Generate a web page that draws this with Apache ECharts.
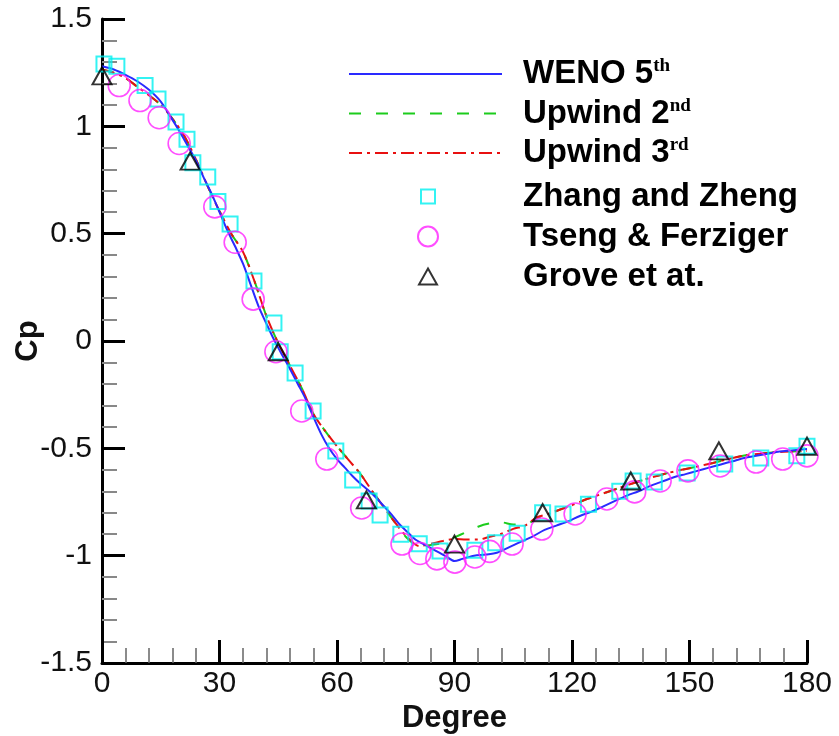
<!DOCTYPE html>
<html>
<head>
<meta charset="utf-8">
<script src="https://cdn.jsdelivr.net/npm/echarts@6/dist/echarts.min.js"></script>
<style>
html,body{margin:0;padding:0;background:#fff;}
#chart{width:839px;height:736px;}
</style>
</head>
<body>
<div id="chart"></div>
<script>
// ---- data ----
const wenoDeg = [0,3,6,9,12,15,18,20,22,24,26,28,30,32,34,36,38,40,42,44,46,48,50,52,54,56,58,60,62,64,66,68,70,72,74,76,78,80,82,84,86,88,90,92,95,98,101,104,107,110,113,116,119,122,125,128,131,134,137,140,143,146,149,152,155,158,161,164,167,170,173,176,180];
const wenoCp  = [1.28,1.265,1.24,1.21,1.17,1.115,1.03,0.97,0.905,0.84,0.76,0.685,0.6,0.515,0.44,0.36,0.26,0.16,0.08,0.003,-0.065,-0.13,-0.2,-0.27,-0.355,-0.435,-0.5,-0.55,-0.59,-0.63,-0.665,-0.695,-0.73,-0.77,-0.81,-0.855,-0.89,-0.925,-0.945,-0.965,-0.985,-1.005,-1.025,-1.015,-1.0,-0.995,-0.985,-0.96,-0.935,-0.91,-0.88,-0.86,-0.84,-0.815,-0.795,-0.77,-0.745,-0.72,-0.7,-0.675,-0.655,-0.635,-0.62,-0.605,-0.59,-0.575,-0.56,-0.545,-0.535,-0.525,-0.515,-0.51,-0.503];

const upDeg = [0,3,6,9,12,15,18,21,24,27,30,33,36,39,42,45,48,51,54,57,60,63,66,69,72,75,78,81,84,87,90,93,96,99,102,105,108,111,114,117,120,124,128,132,136,140,144,148,152,156,160,164,168,172,176,180];
const up3Cp = [1.265,1.25,1.225,1.185,1.145,1.10,1.035,0.955,0.845,0.72,0.605,0.5,0.415,0.275,0.115,-0.01,-0.115,-0.22,-0.34,-0.42,-0.49,-0.555,-0.62,-0.70,-0.775,-0.85,-0.915,-0.955,-0.945,-0.932,-0.922,-0.925,-0.925,-0.912,-0.898,-0.875,-0.86,-0.822,-0.805,-0.785,-0.765,-0.735,-0.71,-0.685,-0.66,-0.637,-0.617,-0.6,-0.585,-0.568,-0.55,-0.533,-0.525,-0.518,-0.515,-0.512];
const up2Cp = [1.265,1.25,1.225,1.185,1.145,1.10,1.035,0.955,0.845,0.72,0.605,0.5,0.415,0.275,0.115,-0.01,-0.115,-0.22,-0.34,-0.42,-0.49,-0.555,-0.62,-0.70,-0.775,-0.85,-0.92,-0.955,-0.95,-0.94,-0.915,-0.89,-0.865,-0.85,-0.845,-0.855,-0.855,-0.825,-0.805,-0.785,-0.765,-0.735,-0.71,-0.685,-0.66,-0.637,-0.617,-0.6,-0.585,-0.568,-0.55,-0.533,-0.525,-0.518,-0.515,-0.512];

const zhangDeg = [0.5,3.8,11,14.3,18.9,21.7,23.2,27,29.6,32.7,38.8,43.9,45.5,49.3,53.9,59.7,64,68.2,71,76.3,81,86.3,95.2,100.5,106,112.5,117.7,124.2,132.2,135.6,141,149.4,159,168.2,177.4,180];
const zhangCp  = [1.29,1.28,1.19,1.127,1.02,0.94,0.83,0.764,0.65,0.545,0.28,0.084,-0.05,-0.149,-0.326,-0.512,-0.647,-0.745,-0.81,-0.90,-0.945,-0.978,-0.975,-0.94,-0.895,-0.80,-0.806,-0.76,-0.70,-0.652,-0.657,-0.615,-0.573,-0.545,-0.535,-0.49];

const tsengDeg = [4.4,9.7,14.6,19.7,28.8,34,38.6,44.4,51,57.4,66.3,76.6,81.2,85.5,90.1,95.2,99,104.7,112.3,120.8,128.9,136,142.5,149.6,157.8,167,173.8,180];
const tsengCp  = [1.19,1.12,1.04,0.92,0.625,0.46,0.195,-0.05,-0.326,-0.55,-0.778,-0.946,-0.99,-1.015,-1.03,-1.006,-0.98,-0.946,-0.876,-0.806,-0.736,-0.703,-0.652,-0.605,-0.582,-0.564,-0.55,-0.535];

const groveDeg = [0,22.5,45,67.5,90,112.5,135,157.5,180];
const groveCp  = [1.235,0.838,-0.05,-0.74,-0.946,-0.80,-0.652,-0.512,-0.49];

const xMin = 0, xMax = 180, xStep = 30;
const yMin = -1.5, yMax = 1.5, yStep = 0.5;

const seriesNames = ['WENO 5th','Upwind 2nd','Upwind 3rd','Zhang and Zheng','Tseng & Ferziger','Grove et at.'];
// ---- end data ----

const pair = (xs, ys) => xs.map((x, i) => [x, ys[i]]);
const FONT = 'Liberation Sans';
const TEXT_X = 523;

const legendRich = {
  m: {fontFamily: FONT, fontWeight: 'bold', fontSize: 33, color: '#000', lineHeight: 34},
  s: {fontFamily: 'Liberation Serif', fontWeight: 'bold', fontSize: 19, color: '#000', lineHeight: 20, verticalAlign: 'top'}
};
function legendFmt(name) {
  const m = name.match(/^(.*\d)(st|nd|rd|th)$/);
  if (m) return '{m|' + m[1] + '}{s|' + m[2] + '}';
  return '{m|' + name + '}';
}
function mkLegend(names, left, top, itemW, itemH, gap, extra) {
  return Object.assign({
    data: names, orient: 'vertical', left: left, top: top,
    itemWidth: itemW, itemHeight: itemH, itemGap: gap,
    formatter: legendFmt, selectedMode: false,
    textStyle: {rich: legendRich, padding: [0, 0, 0, TEXT_X - left - itemW - 11]}
  }, extra || {});
}

const chart = echarts.init(document.getElementById('chart'), null, {renderer: 'canvas'});
const axisCommon = {
  axisLine: {show: true, onZero: false, lineStyle: {color: '#000', width: 3}},
  axisTick: {show: true, inside: true, length: 23, lineStyle: {color: '#000', width: 3}},
  minorTick: {show: true, splitNumber: 5, length: 15, lineStyle: {color: '#888', width: 2}},
  splitLine: {show: false},
  axisLabel: {fontFamily: FONT, fontSize: 30, color: '#111'},
  nameTextStyle: {fontFamily: FONT, fontSize: 31, fontWeight: 'bold', color: '#111'},
  nameMoveOverlap: false
};
chart.setOption({
  animation: false,
  backgroundColor: '#fff',
  grid: {left: 102, right: 32, top: 19, bottom: 73, containLabel: false, outerBoundsMode: 'none'},
  legend: [
    mkLegend(seriesNames.slice(0, 3), 343, 52, 153, 14, 6, {itemStyle: {opacity: 0}}),
    mkLegend([seriesNames[3]], 415, 175, 14, 14, 0),
    mkLegend([seriesNames[4]], 412, 215, 20, 20, 0),
    mkLegend([seriesNames[5]], 413, 255, 18, 16, 0)
  ],
  xAxis: Object.assign({}, axisCommon, {
    type: 'value', min: xMin, max: xMax, interval: xStep,
    name: 'Degree', nameLocation: 'middle', nameGap: 40,
    axisLabel: Object.assign({}, axisCommon.axisLabel, {margin: 6}),
    minorTick: Object.assign({}, axisCommon.minorTick, {lineStyle: {color: '#666', width: 1.5}})
  }),
  yAxis: Object.assign({}, axisCommon, {
    type: 'value', min: yMin, max: yMax, interval: yStep,
    name: 'Cp', nameLocation: 'middle', nameGap: 58, nameRotate: 90,
    axisLabel: Object.assign({}, axisCommon.axisLabel, {margin: 10})
  }),
  series: [
    {name: seriesNames[0], type: 'line', data: pair(wenoDeg, wenoCp), symbol: 'none', smooth: 0.3,
     lineStyle: {color: '#2a2aff', width: 2}, itemStyle: {color: '#2a2aff'}, z: 3},
    {name: seriesNames[1], type: 'line', data: pair(upDeg, up2Cp), symbol: 'none', smooth: 0.3,
     lineStyle: {color: '#1ccc1c', width: 2, type: [12, 15]}, itemStyle: {color: '#1ccc1c'}, z: 2},
    {name: seriesNames[2], type: 'line', data: pair(upDeg, up3Cp), symbol: 'none', smooth: 0.3,
     lineStyle: {color: '#e81010', width: 2, type: [13, 5, 3, 5]}, itemStyle: {color: '#e81010'}, z: 2},
    {name: seriesNames[3], type: 'scatter', data: pair(zhangDeg, zhangCp), symbol: 'rect', symbolSize: 15,
     itemStyle: {color: 'rgba(0,0,0,0)', borderColor: '#00f0f0', borderWidth: 2}, z: 4},
    {name: seriesNames[4], type: 'scatter', data: pair(tsengDeg, tsengCp), symbol: 'circle', symbolSize: 22,
     itemStyle: {color: 'rgba(0,0,0,0)', borderColor: '#ff22ff', borderWidth: 1.6}, z: 4},
    {name: seriesNames[5], type: 'scatter', data: pair(groveDeg, groveCp), symbol: 'triangle', symbolSize: [19, 17],
     itemStyle: {color: 'rgba(0,0,0,0)', borderColor: '#000', borderWidth: 2}, z: 5}
  ]
});
</script>
</body>
</html>
